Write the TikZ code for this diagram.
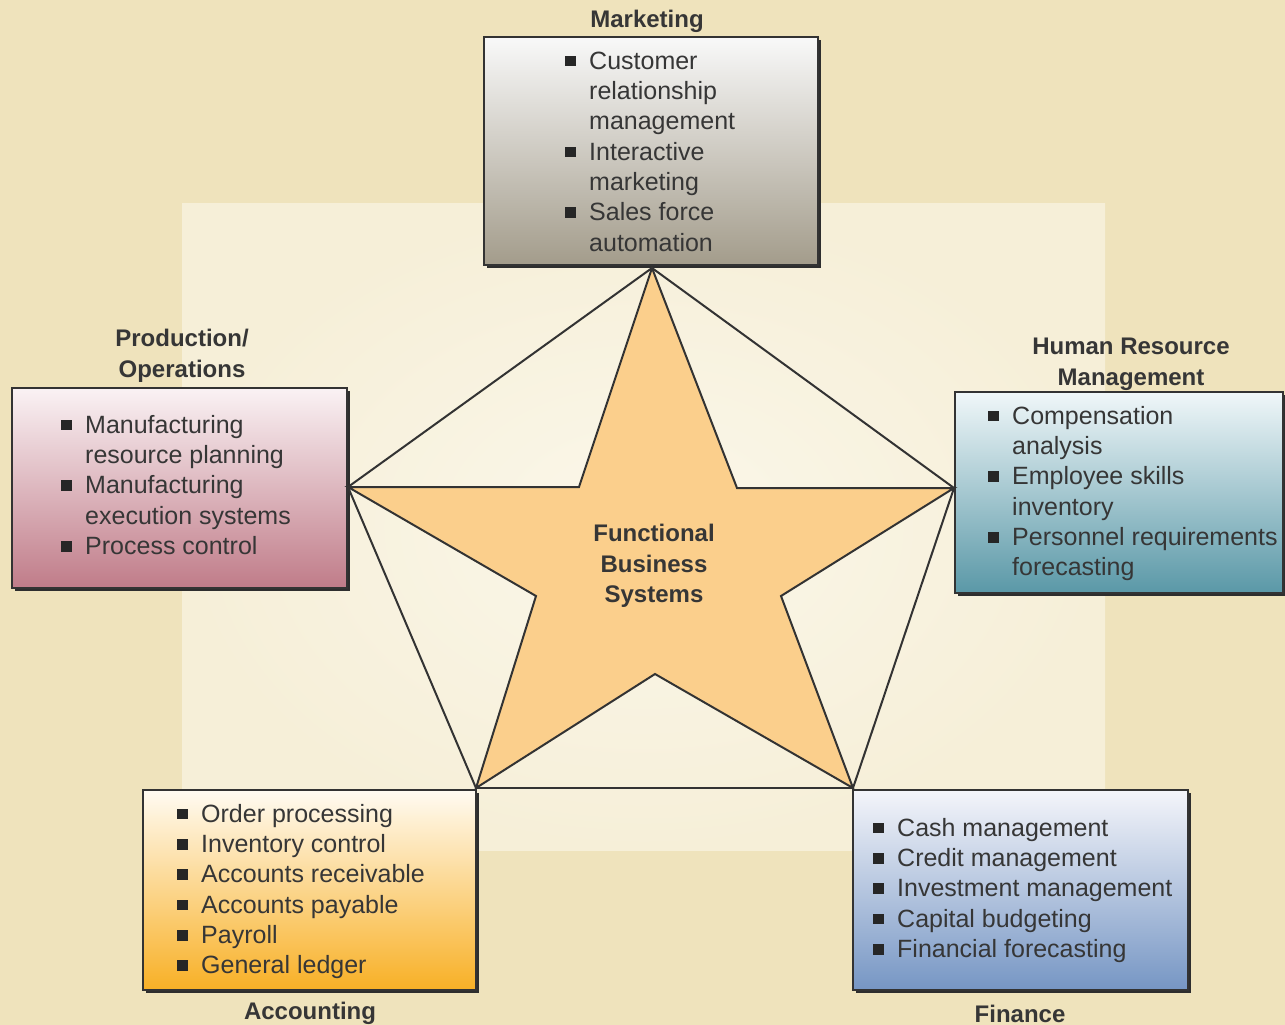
\documentclass[tikz,border=0pt]{standalone}
\usepackage{fontspec}
\setmainfont{Liberation Sans}
\usetikzlibrary{shadows}
\definecolor{bgouter}{HTML}{EFE3BC}
\definecolor{bginner}{HTML}{FBF7EA}
\definecolor{bginneredge}{HTML}{F6EFD8}
\definecolor{txt}{HTML}{363636}
\definecolor{bul}{HTML}{262626}
\definecolor{edge}{HTML}{333333}
\definecolor{starfill}{HTML}{FBCF8C}
\newcommand\itm{\makebox[24pt][l]{\textcolor{bul}{\rule[3pt]{11pt}{10.5pt}}}}
\newcommand\cnt{\hspace*{24pt}}
\newcommand\fl{\rule{0pt}{18pt}}
\tikzset{
  panel/.style={draw=edge, line width=1.4pt, inner sep=0pt,
    drop shadow={opacity=1, fill=black!82, shadow xshift=3pt, shadow yshift=-3pt}},
  listtxt/.style={anchor=north west, inner sep=0pt, align=left, text=txt,
    font=\fontsize{25}{30.3}\selectfont},
  ttl/.style={inner sep=0pt, align=center, text=txt,
    font=\fontsize{24}{30.5}\selectfont\bfseries},
  link/.style={draw=edge, line width=2pt},
}
\begin{document}
\begin{tikzpicture}[x=1pt,y=-1pt]
\useasboundingbox (0,0) rectangle (1285,1025);
% background
\fill[bgouter] (0,0) rectangle (1285,1025);
\shade[inner color=bginner, outer color=bginneredge] (182,203) rectangle (1105,850);

% boxes
\node[panel, top color=white!95!gray, bottom color={rgb,255:red,163;green,156;blue,139},
  minimum width=334pt, minimum height=228pt] (mkt) at (651,151) {};
\node[panel, top color={rgb,255:red,250;green,242;blue,244}, bottom color={rgb,255:red,192;green,124;blue,137},
  minimum width=335pt, minimum height=200pt] (prod) at (179.5,488) {};
\node[panel, top color={rgb,255:red,240;green,247;blue,249}, bottom color={rgb,255:red,90;green,152;blue,167},
  minimum width=328pt, minimum height=201pt] (hr) at (1119,492.5) {};
\node[panel, top color={rgb,255:red,255;green,251;blue,242}, bottom color={rgb,255:red,248;green,176;blue,38},
  minimum width=333pt, minimum height=200pt] (acc) at (309.5,890) {};
\node[panel, top color={rgb,255:red,244;green,245;blue,250}, bottom color={rgb,255:red,118;green,150;blue,196},
  minimum width=335pt, minimum height=200pt] (fin) at (1020.5,890) {};

% titles
\node[ttl, anchor=base] (mktt) at (647,28) {Marketing};
\node[ttl, anchor=north] (prodt) at (182,328.5) {\fl Production/\\Operations};
\node[ttl, anchor=north] (hrt) at (1131,336.5) {\fl Human Resource\\Management};
\node[ttl, anchor=base] (acct) at (310,1019) {Accounting};
\node[ttl, anchor=base] (fint) at (1020,1022) {Finance};

% lists
\node[listtxt] (mktl) at (565,51) {\fl\itm Customer\\\cnt relationship\\\cnt management\\\itm Interactive\\\cnt marketing\\\itm Sales force\\\cnt automation};
\node[listtxt] (prodl) at (61,415) {\fl\itm Manufacturing\\\cnt resource planning\\\itm Manufacturing\\\cnt execution systems\\\itm Process control};
\node[listtxt] (hrl) at (988,406) {\fl\itm Compensation\\\cnt analysis\\\itm Employee skills\\\cnt inventory\\\itm Personnel requirements\\\cnt forecasting};
\node[listtxt] (accl) at (177,804) {\fl\itm Order processing\\\itm Inventory control\\\itm Accounts receivable\\\itm Accounts payable\\\itm Payroll\\\itm General ledger};
\node[listtxt] (finl) at (873,818) {\fl\itm Cash management\\\itm Credit management\\\itm Investment management\\\itm Capital budgeting\\\itm Financial forecasting};

% star vertices
\coordinate (T) at (652,268);
\coordinate (L) at (348,487);
\coordinate (R) at (954,488);
\coordinate (BL) at (476,788);
\coordinate (BR) at (853,788);
\coordinate (i1) at (579,487);
\coordinate (i2) at (536,596);
\coordinate (i3) at (655,674);
\coordinate (i4) at (781,596);
\coordinate (i5) at (737,488);

% star
\draw[link, fill=starfill] (T) -- (i1) -- (L) -- (i2) -- (BL) -- (i3) -- (BR) -- (i4) -- (R) -- (i5) -- cycle;
% pentagon connectors
\draw[link] (T) -- (L);
\draw[link] (L) -- (BL);
\draw[link] (BL) -- (BR);
\draw[link] (BR) -- (R);
\draw[link] (R) -- (T);

\node[ttl] (ctr) at (654,566) {Functional\\Business\\Systems};
\end{tikzpicture}
\end{document}
